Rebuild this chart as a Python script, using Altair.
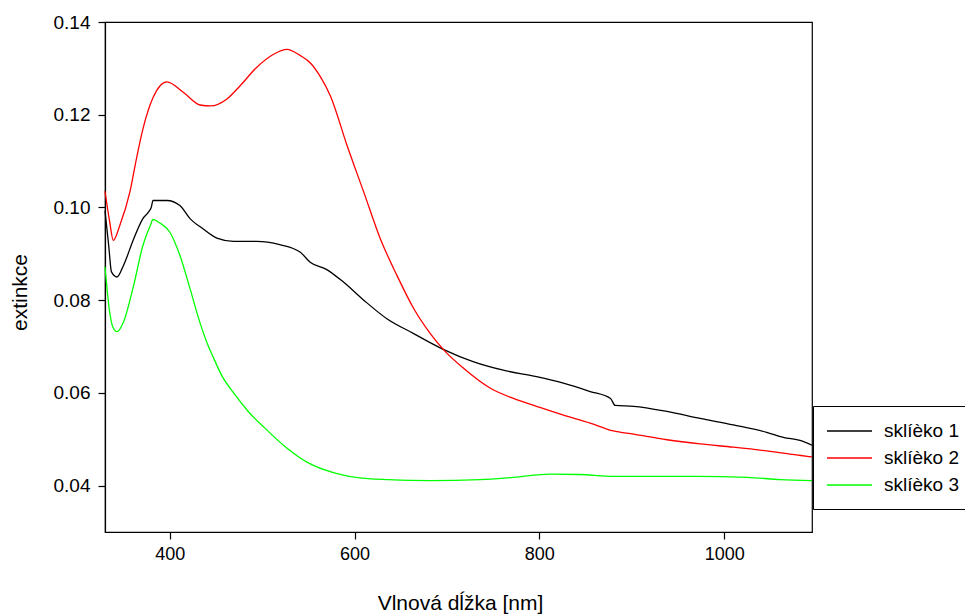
import altair as alt
import pandas as pd

# sklíèko 1 (black)
nm_1 = [330, 334, 337, 343, 350, 361, 371, 377, 380, 382, 397, 411, 422, 436, 451, 469, 494, 519, 541, 552,
        570, 588, 610, 635, 664, 696, 729, 761, 797, 826, 855, 877, 882, 902, 938, 974, 1010, 1046, 1064, 1083, 1095]
val_1 = [0.0993, 0.0918, 0.0861, 0.0850, 0.0875, 0.0932, 0.0976, 0.0990, 0.1000, 0.1015, 0.1015, 0.1004, 0.0976,
         0.0954, 0.0934, 0.0927, 0.0927, 0.0920, 0.0904, 0.0882, 0.0866, 0.0839, 0.0800, 0.0760, 0.0728, 0.0694,
         0.0667, 0.0649, 0.0635, 0.0621, 0.0603, 0.0588, 0.0573, 0.0571, 0.0560, 0.0545, 0.0531, 0.0515, 0.0504,
         0.0497, 0.0487]

# sklíèko 2 (red)
nm_2 = [330, 335, 339, 346, 357, 364, 371, 382, 397, 415, 433, 444, 462, 476, 494, 512, 527, 541, 553, 563, 574,
        592, 610, 628, 646, 664, 682, 696, 718, 747, 772, 797, 826, 855, 880, 902, 938, 974, 1010, 1046, 1083, 1095]
val_2 = [0.1035, 0.0970, 0.0929, 0.0961, 0.1034, 0.1105, 0.1169, 0.1237, 0.1271, 0.1248, 0.1221, 0.1219, 0.1234,
         0.1262, 0.1302, 0.1330, 0.1341, 0.1328, 0.1310, 0.1282, 0.1240, 0.1133, 0.1033, 0.0932, 0.0853, 0.0782,
         0.0728, 0.0694, 0.0653, 0.0610, 0.0588, 0.0571, 0.0552, 0.0535, 0.0518, 0.0511, 0.0499, 0.0490, 0.0483,
         0.0475, 0.0465, 0.0462]

# sklíèko 3 (green)
nm_3 = [330, 335, 338, 343, 350, 361, 371, 379, 382, 389, 400, 411, 422, 433, 442, 446, 456, 471, 485, 503,
        525, 550, 579, 608, 637, 682, 736, 772, 812, 844, 880, 916, 971, 1025, 1061, 1095]
val_3 = [0.0872, 0.0775, 0.0745, 0.0732, 0.0753, 0.0832, 0.0918, 0.0961, 0.0974, 0.0967, 0.0947, 0.0897, 0.0825,
         0.0750, 0.0700, 0.0682, 0.0639, 0.0595, 0.0560, 0.0524, 0.0484, 0.0449, 0.0427, 0.0416, 0.0413, 0.0411,
         0.0413, 0.0418, 0.0425, 0.0424, 0.0420, 0.0420, 0.0420, 0.0418, 0.0413, 0.0411]

series_names = ["sklíèko 1", "sklíèko 2", "sklíèko 3"]
series_colors = ["#000000", "#ff0000", "#00ff00"]
x_ticks = [400, 600, 800, 1000]
y_ticks = [0.04, 0.06, 0.08, 0.10, 0.12, 0.14]

rows = []
for name, xs, ys in zip(series_names, [nm_1, nm_2, nm_3], [val_1, val_2, val_3]):
    for x, y in zip(xs, ys):
        rows.append({"nm": x, "ext": y, "serie": name})
df = pd.DataFrame(rows)

FONT = "Liberation Sans"

chart = alt.Chart(df).mark_line(strokeWidth=1.3, interpolate="monotone").encode(
    x=alt.X("nm:Q",
            scale=alt.Scale(domain=[330, 1095], nice=False, zero=False),
            axis=alt.Axis(values=x_ticks, format="d", title="Vlnová dĺžka [nm]", grid=False,
                          titleX=355, titleY=71, titleBaseline="middle", titleAlign="center")),
    y=alt.Y("ext:Q",
            scale=alt.Scale(domain=[0.03, 0.14], nice=False, zero=False),
            axis=alt.Axis(values=y_ticks, format=".2f", title="extinkce", grid=False,
                          titleX=-85, titleY=270, titleAngle=-90, titleAlign="center",
                          titleBaseline="middle")),
    color=alt.Color("serie:N",
                    scale=alt.Scale(domain=series_names, range=series_colors),
                    legend=alt.Legend(title=None, orient="none", legendX=708, legendY=384,
                                      strokeColor="#000000", fillColor="#ffffff", padding=14,
                                      rowPadding=6, symbolType="M-1.1,0H3.4", symbolSize=400,
                                      symbolStrokeWidth=1.5, labelOffset=35, labelFontSize=19,
                                      labelFont=FONT, labelColor="#000000")),
    order=alt.Order("nm:Q"),
).properties(
    width=707, height=510,
    autosize=alt.AutoSizeParams(type="none"),
    padding={"left": 105, "top": 22, "right": 153, "bottom": 82},
).configure_view(
    stroke="#000000", strokeWidth=1.2
).configure_axis(
    domainColor="#000000", domainWidth=1.2, tickColor="#000000", tickSize=7, tickWidth=1.2,
    labelFont=FONT, labelFontSize=18, labelColor="#000000", labelPadding=6,
    titleFont=FONT, titleFontSize=21, titleColor="#000000", titleFontWeight="normal"
).configure_axisY(labelPadding=8, labelFontSize=19, titleFontSize=21)

chart.save("out.html", embed_options={"renderer": "svg", "actions": False})
